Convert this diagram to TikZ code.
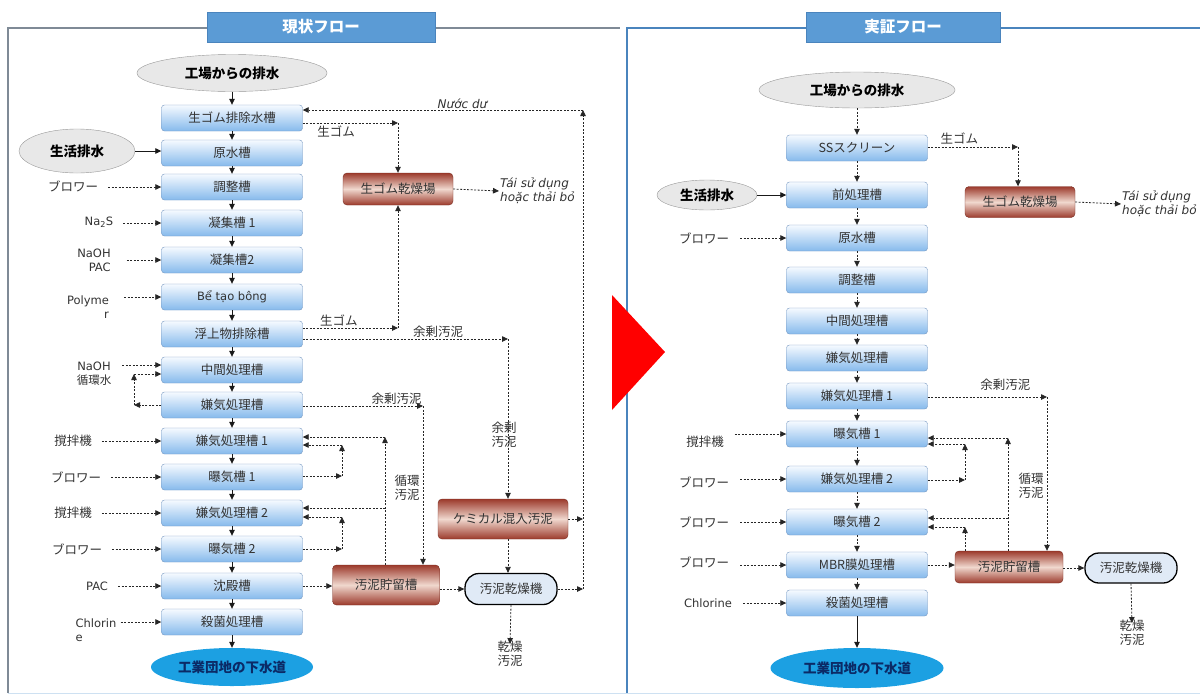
\documentclass[tikz,border=0pt]{standalone}
\usepackage{fontspec}
\setmainfont{DejaVu Sans}
\newfontfamily\jp{Noto Sans CJK JP}
\usepackage{tikz}
\usetikzlibrary{arrows.meta,shapes.geometric}

\definecolor{tanktop}{HTML}{F6FAFF}
\definecolor{tankbot}{HTML}{86BAEC}
\definecolor{tankline}{HTML}{7496C0}
\definecolor{browndark}{HTML}{9C3A2C}
\definecolor{brownlight}{HTML}{F0D8CE}
\definecolor{brownline}{HTML}{7A2E22}
\definecolor{srcgray}{HTML}{E8E8E8}
\definecolor{sewerblue}{HTML}{1CA0E2}
\definecolor{sewertext}{HTML}{0B2A66}
\definecolor{dryfill}{HTML}{E0EAF6}
\definecolor{tabblue}{HTML}{5B9BD5}
\definecolor{tabline}{HTML}{4A84BD}
\definecolor{framegray}{HTML}{7F8A96}
\definecolor{txtgray}{HTML}{333333}

\begin{document}
\begin{tikzpicture}[x=1pt, y=-1pt, >={Triangle[length=6pt, width=5.5pt]},
    tank/.style={rectangle, rounded corners=3pt, draw=tankline, top color=tanktop, bottom color=tankbot, minimum width=141, minimum height=26, font=\jp\fontsize{12.5}{14}\selectfont, text=txtgray},
    sludge/.style={rectangle, rounded corners=4pt, draw=brownline, top color=browndark, bottom color=browndark, middle color=brownlight, minimum height=32, font=\jp\fontsize{12.5}{14}\selectfont, text=txtgray},
    src/.style={ellipse, draw=gray!80, fill=srcgray, inner sep=0pt, font=\jp\bfseries\fontsize{13.5}{15}\selectfont},
    sewer/.style={ellipse, fill=sewerblue, inner sep=0pt, font=\jp\bfseries\fontsize{13.5}{15}\selectfont, text=sewertext},
    dryer/.style={rectangle, rounded corners=14pt, draw=black, line width=1.3pt, fill=dryfill, minimum width=92, minimum height=31, font=\jp\fontsize{12.5}{14}\selectfont, text=txtgray},
    tabbox/.style={rectangle, fill=tabblue, draw=tabline, minimum height=30, font=\jp\bfseries\fontsize{15.5}{17}\selectfont, text=white},
    lbl/.style={font=\jp\fontsize{12.5}{14}\selectfont, text=txtgray, inner sep=1pt},
    latin/.style={font=\fontsize{11.5}{14}\selectfont, text=txtgray, inner sep=1pt},
    note/.style={font=\itshape\fontsize{12}{14}\selectfont, text=txtgray, inner sep=1pt, align=left},
    flow/.style={->, line width=0.8pt, black!90},
    aux/.style={->, line width=0.8pt, black!85, dash pattern=on 2pt off 1.5pt},
    frame/.style={line width=1.2pt, draw=framegray}]

    \fill [white] (0,0) rectangle (1200,697);
    \useasboundingbox (0,0) rectangle (1200,697);

    % Panel frames and titles
    \draw [frame] (8,693) -- (8,28) -- (620,28);
    \draw [frame, draw=tabline] (627,693) -- (627,28) -- (1200,28);
    \draw [line width=1pt, draw=tabblue!30] (8,693) -- (1200,693);
    \node [tabbox, minimum width=228] (Ltab) at (321,27) {現状フロー};
    \node [tabbox, minimum width=194] (Rtab) at (903,27) {実証フロー};
    \fill [red] (612,295) -- (665,352) -- (612,410) -- cycle;

    % Left flow: main line
    \node [src, minimum width=190, minimum height=37] (Lin) at (232,73) {工場からの排水};
    \node [tank] (L1) at (232,118) {生ゴム排除水槽};
    \node [tank] (L2) at (232,153) {原水槽};
    \node [tank] (L3) at (232,187) {調整槽};
    \node [tank] (L4) at (232,223) {凝集槽 1};
    \node [tank] (L5) at (232,260) {凝集槽2};
    \node [tank, font=\fontsize{11.5}{14}\selectfont] (L6) at (232,297) {Bể tạo bông};
    \node [tank] (L7) at (232,334) {浮上物排除槽};
    \node [tank] (L8) at (232,370) {中間処理槽};
    \node [tank] (L9) at (232,405) {嫌気処理槽};
    \node [tank] (L10) at (232,441) {嫌気処理槽 1};
    \node [tank] (L11) at (232,477) {曝気槽 1};
    \node [tank] (L12) at (232,513) {嫌気処理槽 2};
    \node [tank] (L13) at (232,549) {曝気槽 2};
    \node [tank] (L14) at (232,586) {沈殿槽};
    \node [tank] (L15) at (232,622) {殺菌処理槽};
    \node [sewer, minimum width=162, minimum height=38] (Lout) at (232,667) {工業団地の下水道};
    \foreach \a/\b in {Lin/L1, L1/L2, L2/L3, L3/L4, L4/L5, L5/L6, L6/L7, L7/L8, L8/L9, L9/L10, L10/L11, L11/L12, L12/L13, L13/L14, L14/L15, L15/Lout}
        \draw [flow] (\a) -- (\b);

    % Left flow: inputs
    \node [src, minimum width=116, minimum height=44] (Lhome) at (77,151) {生活排水};
    \draw [flow] (Lhome.east) -- (Lhome.east -| L2.west);
    \node [lbl] (la3) at (73,186) {ブロワー};
    \node [latin] (la4) at (99,222) {Na\textsubscript{2}S};
    \node [latin, align=right] (la5) at (94,260) {NaOH\\PAC};
    \node [latin, align=right] (la6) at (88,307) {Polyme\\r};
    \node [latin, align=center] (la8) at (94,374) {NaOH\\{\jp 循環水}};
    \node [lbl] (la10) at (73,441) {撹拌機};
    \node [lbl] (la11) at (76,477) {ブロワー};
    \node [lbl] (la12) at (73,513) {撹拌機};
    \node [lbl] (la13) at (77,549) {ブロワー};
    \node [latin] (la14) at (97,586) {PAC};
    \node [latin, align=left] (la15) at (96,630) {Chlorin\\e};
    \foreach \t/\b in {la3/L3, la4/L4, la10/L10, la11/L11, la12/L12, la13/L13, la14/L14}
        \draw [aux, shorten <=9pt] (\t.east |- \b.west) -- (\b.west);
    \draw [aux, shorten <=15pt] (la5.east |- L5.west) -- (L5.west);
    \draw [aux, shorten <=14pt] (la6.east |- L6.west) -- (L6.west);
    \draw [aux, shorten <=3pt] (la15.east |- L15.west) -- (L15.west);
    \coordinate (n8) at ([yshift=5pt]L8.west);
    \draw [aux, shorten <=10pt] (la8.east |- n8) -- (n8);
    \coordinate (rc1) at (134,405);
    \coordinate (rc2) at (134,374);
    \draw [aux] (L9.west) -- (rc1);
    \draw [aux] (rc1) -- (rc2);
    \draw [aux] (rc2) -- (rc2 -| L8.west);

    % Left flow: rubber, sludge and return lines
    \node [sludge, minimum width=110] (Ldry) at (398,189) {生ゴム乾燥場};
    \node [note, anchor=west] (Lreuse) at (499,191) {Tái sử dụng\\hoặc thải bỏ};
    \node [sludge, minimum width=130, minimum height=40] (Lchem) at (503,519) {ケミカル混入汚泥};
    \node [sludge, minimum width=107, minimum height=40] (Lstore) at (386,585) {汚泥貯留槽};
    \node [dryer] (Lmach) at (511,589) {汚泥乾燥機};
    \node [lbl, align=center] (Ldried) at (510,654) {乾燥\\汚泥};
    \draw [aux] (Ldry.east) -- (Lreuse.west);

    \coordinate (g1) at (398,123);
    \draw [aux] (L1.east |- g1) -- (g1) node [lbl, pos=0.35, below=1pt] (lg1) {生ゴム};
    \draw [aux] (g1) -- (Ldry.north);
    \coordinate (g2) at (398,328);
    \draw [aux] (L7.east |- g2) -- (g2) node [lbl, pos=0.38, above=1pt] (lg2) {生ゴム};
    \draw [aux] (g2) -- (Ldry.south);

    \coordinate (w1) at (583,110);
    \coordinate (w2) at (583,589);
    \draw [aux] (Lmach.east) -- (w2);
    \draw [aux] (Lchem.east) -- (Lchem.east -| w1);
    \draw [aux] (w2) -- (w1);
    \draw [aux] (w1) -- (w1 -| L1.east) node [note, pos=0.43, above=0pt] (lnd) {Nước dư};

    \coordinate (e1) at (508,339);
    \draw [aux] (L7.east |- e1) -- (e1) node [lbl, pos=0.66, above=0pt] (le1) {余剰汚泥};
    \draw [aux] (e1) -- (e1 |- Lchem.north) node [lbl, pos=0.6, align=center, left=-10pt] (le1b) {余剰\\汚泥};
    \draw [aux] (e1 |- Lchem.south) -- (e1 |- Lmach.north);
    \draw [aux] (Lmach.south) -- ([yshift=-4pt]Ldried.north);

    \coordinate (e2) at (423,406);
    \draw [aux] (L9.east |- e2) -- (e2) node [lbl, pos=0.78, above=0pt] (le2) {余剰汚泥};
    \draw [aux] (e2) -- (e2 |- Lstore.north);

    \coordinate (r1) at (385,437);
    \coordinate (r2) at (385,508);
    \draw [aux] (r1 |- Lstore.north) -- (r1);
    \draw [aux] (r1) -- (r1 -| L10.east);
    \draw [aux] (r2) -- (r2 -| L12.east);
    \node [lbl, align=center] (lr) at (407,488) {循環\\汚泥};

    \coordinate (s1) at (342,476);
    \coordinate (s2) at (342,445);
    \draw [aux] (L11.east |- s1) -- (s1);
    \draw [aux] (s1) -- (s2);
    \draw [aux] (s2) -- (s2 -| L10.east);
    \coordinate (s3) at (342,549);
    \coordinate (s4) at (342,517);
    \draw [aux] (L13.east |- s3) -- (s3);
    \draw [aux] (s3) -- (s4);
    \draw [aux] (s4) -- (s4 -| L12.east);

    \draw [aux] (L14.east) -- (L14.east -| Lstore.west);
    \draw [aux] (Lstore.east |- Lmach.west) -- (Lmach.west);

    % Right flow: main line
    \node [src, minimum width=196, minimum height=36] (Rin) at (857,90) {工場からの排水};
    \node [tank] (R1) at (857,148) {SSスクリーン};
    \node [tank] (R2) at (857,195) {前処理槽};
    \node [tank] (R3) at (857,238) {原水槽};
    \node [tank] (R4) at (857,280) {調整槽};
    \node [tank] (R5) at (857,321) {中間処理槽};
    \node [tank] (R6) at (857,358) {嫌気処理槽};
    \node [tank] (R7) at (857,396) {嫌気処理槽 1};
    \node [tank] (R8) at (857,434) {曝気槽 1};
    \node [tank] (R9) at (857,479) {嫌気処理槽 2};
    \node [tank] (R10) at (857,522) {曝気槽 2};
    \node [tank] (R11) at (857,565) {MBR膜処理槽};
    \node [tank] (R12) at (857,603) {殺菌処理槽};
    \node [sewer, minimum width=173, minimum height=40] (Rout) at (857,668) {工業団地の下水道};
    \foreach \a/\b in {Rin/R1, R1/R2, R2/R3, R3/R4, R4/R5, R5/R6, R6/R7, R7/R8, R8/R9, R9/R10, R10/R11, R11/R12}
        \draw [aux] (\a) -- (\b);
    \draw [flow] (R12) -- (Rout);

    % Right flow: inputs
    \node [src, minimum width=100, minimum height=30] (Rhome) at (707,195) {生活排水};
    \draw [flow] (Rhome.east) -- (Rhome.east -| R2.west);
    \node [lbl] (ra3) at (704,238) {ブロワー};
    \node [lbl] (ra8) at (705,442) {撹拌機};
    \node [lbl] (ra9) at (704,482) {ブロワー};
    \node [lbl] (ra10) at (704,522) {ブロワー};
    \node [lbl] (ra11) at (704,562) {ブロワー};
    \node [latin] (ra12) at (708,603) {Chlorine};
    \foreach \t/\b in {ra3/R3, ra8/R8, ra9/R9, ra10/R10, ra11/R11, ra12/R12}
        \draw [aux, shorten <=10pt] (\t.east |- \b.west) -- (\b.west);

    % Right flow: rubber, sludge and return lines
    \node [sludge, minimum width=110, minimum height=31] (Rdry) at (1020,202) {生ゴム乾燥場};
    \node [note, anchor=west] (Rreuse) at (1121,204) {Tái sử dụng\\hoặc thải bỏ};
    \node [sludge, minimum width=108] (Rstore) at (1009,567) {汚泥貯留槽};
    \node [dryer, minimum height=30] (Rmach) at (1131,568) {汚泥乾燥機};
    \node [lbl, align=center] (Rdried) at (1132,633) {乾燥\\汚泥};
    \draw [aux] (Rdry.east) -- (Rreuse.west);

    \coordinate (h1) at (1018,147);
    \draw [aux] (R1.east |- h1) -- (h1) node [lbl, pos=0.35, above=2pt] (lh1) {生ゴム};
    \draw [aux] (h1) -- (h1 |- Rdry.north);

    \coordinate (k1) at (1047,397);
    \draw [aux] (R7.east |- k1) -- (k1) node [lbl, pos=0.65, above=5pt] (lk1) {余剰汚泥};
    \draw [aux] (k1) -- (k1 |- Rstore.north);

    \coordinate (m1) at (1008,438);
    \coordinate (m2) at (1008,518);
    \draw [aux] (m1 |- Rstore.north) -- (m1);
    \draw [aux] (m1) -- (m1 -| R8.east);
    \draw [aux] (m2) -- (m2 -| R10.east);
    \node [lbl, align=center] (lm) at (1031,486) {循環\\汚泥};

    \coordinate (n1) at (965,480);
    \coordinate (n2) at (965,444);
    \draw [aux] (R9.east |- n1) -- (n1);
    \draw [aux] (n1) -- (n2);
    \draw [aux] (n2) -- (n2 -| R8.east);
    \coordinate (n3) at (965,527);
    \draw [aux] (n3 |- Rstore.north) -- (n3);
    \draw [aux] (n3) -- (n3 -| R10.east);

    \draw [aux] (R11.east) -- (R11.east -| Rstore.west);
    \draw [aux] (Rstore.east |- Rmach.west) -- (Rmach.west);
    \draw [aux] (Rmach.south) -- ([yshift=-4pt]Rdried.north);
\end{tikzpicture}
\end{document}
